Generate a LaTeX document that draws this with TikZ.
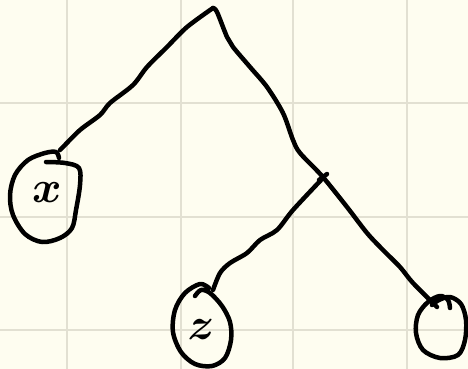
\documentclass[tikz,border=0pt]{standalone}
\usepackage{tikz}
\definecolor{paper}{RGB}{254,253,240}
\definecolor{gridc}{RGB}{226,224,210}
\tikzset{
  ink/.style={line width=4.5pt, line cap=round, line join=round, black},
  lbl/.style={inner sep=0pt, font=\Huge\boldmath, scale=1.8}
}
\begin{document}
\begin{tikzpicture}[x=1pt,y=-1pt]
\fill[paper] (0,0) rectangle (468,369);
\useasboundingbox (0,0) rectangle (468,369);
\foreach \gx in {67,181,293,407} \draw[gridc,line width=1.2pt] (\gx,0) -- (\gx,369);
\foreach \gy in {103,217,330} \draw[gridc,line width=1.2pt] (0,\gy) -- (468,\gy);
% junctions
\coordinate (root) at (213,8);
\coordinate (mid) at (322,176);
\coordinate (xtop) at (60,150);
\coordinate (ztop) at (213,290);
\coordinate (rtop) at (437,307);
% labels
\node[lbl] (xl) at (47,193) {$x$};
\node[lbl] (zl) at (201,330) {$z$};
% branches
\draw[ink] plot[smooth,tension=0.5] coordinates {(root) (187,27) (167,47) (147,67) (133,85) (110,103) (100,115) (80,130) (63,147) (xtop)};
\draw[ink] plot[smooth,tension=0.5] coordinates {(root) (217,12) (227,37) (233,47) (250,67) (267,87) (283,113) (293,140) (300,153) (mid) (347,207) (367,233) (383,250) (400,267) (413,283) (rtop)};
\draw[ink] (mid) ++(-3,4) -- ++(8,-6);
\draw[ink] plot[smooth,tension=0.5] coordinates {(322,179) (293,210) (277,230) (260,240) (247,253) (230,263) (220,273) (ztop)};
% circles
\draw[ink] plot[smooth,tension=0.55] coordinates {(46,162) (65,163) (79,168) (80,185) (76,210) (72,228) (60,238) (42,242) (25,234) (13,215) (10,195) (15,175) (28,160) (45,153) (56,152) (59,158)};
\draw[ink] plot[smooth,tension=0.55] coordinates {(195,296) (201,290) (210,293) (222,306) (230,322) (231,340) (225,358) (212,366) (195,364) (181,352) (173,332) (175,310) (185,293) (200,284) (209,288)};
\draw[ink] plot[smooth,tension=0.55] coordinates {(432,305) (439,300) (450,297) (461,304) (466,320) (465,340) (458,355) (440,358) (423,350) (416,333) (418,315) (428,302) (440,296) (448,300) (450,308)};
\end{tikzpicture}
\end{document}
